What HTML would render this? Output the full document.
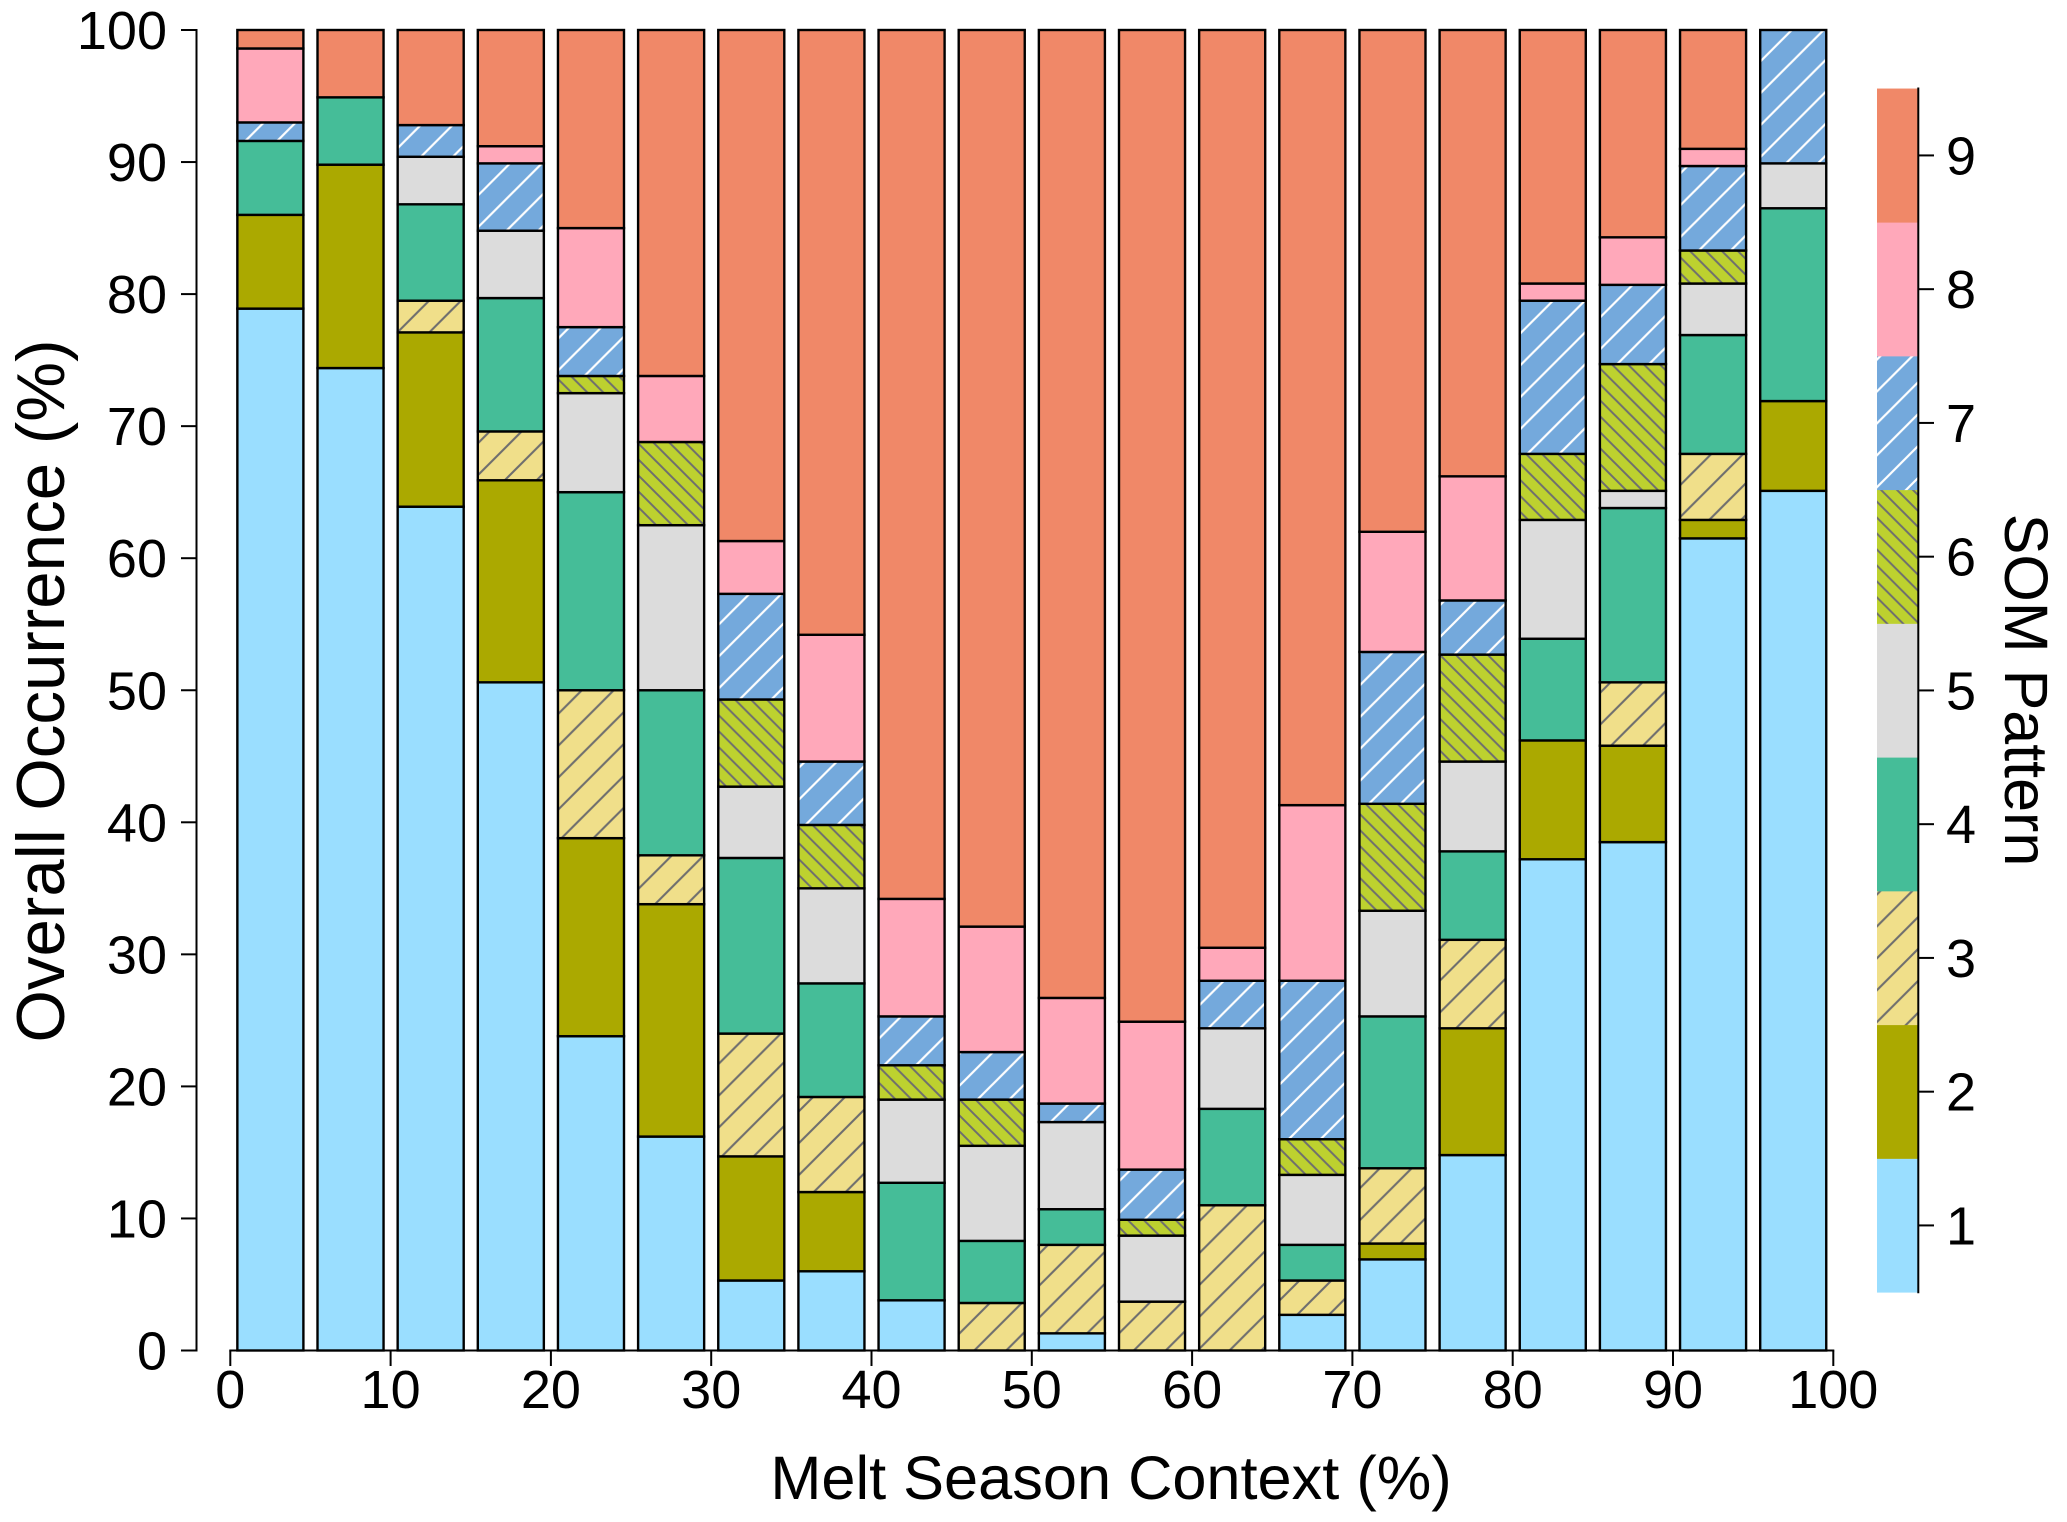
<!DOCTYPE html>
<html lang="en">
<head>
<meta charset="utf-8">
<title>Overall Occurrence by Melt Season Context</title>
<style>
  html, body { margin: 0; padding: 0; background: #fff; }
  svg { display: block; font-family: "Liberation Sans", Arial, sans-serif; fill: #000; }
</style>
</head>
<body>
<svg id="chart" xmlns="http://www.w3.org/2000/svg" width="2067" height="1522" viewBox="0 0 2067 1522">
  <defs>
    <pattern id="hatch-3" patternUnits="userSpaceOnUse" width="31.9" height="31.9" patternTransform="translate(28,0)">
      <rect width="31.9" height="31.9" fill="#F0DF8A"/>
      <path d="M-4,4 L4,-4 M0,31.9 L31.9,0 M27.9,35.9 L35.9,27.9" stroke="#6e6e6e" stroke-width="2.1" fill="none"/>
    </pattern>
    <pattern id="hatch-6" patternUnits="userSpaceOnUse" width="15.95" height="15.95" patternTransform="translate(3.5,0)">
      <rect width="15.95" height="15.95" fill="#BDD12F"/>
      <path d="M-4,11.95 L4,19.95 M0,0 L15.95,15.95 M11.95,-4 L19.95,4" stroke="#6e6e6e" stroke-width="2" fill="none"/>
    </pattern>
    <pattern id="hatch-7" patternUnits="userSpaceOnUse" width="31.9" height="31.9" patternTransform="translate(3.5,0)">
      <rect width="31.9" height="31.9" fill="#74A9DC"/>
      <path d="M-4,4 L4,-4 M0,31.9 L31.9,0 M27.9,35.9 L35.9,27.9" stroke="#ffffff" stroke-width="2.2" fill="none"/>
    </pattern>
  </defs>
  <g id="bars"></g>
  <g id="axes"></g>
  <g id="colorbar"></g>
  <text x="1111" y="1499" font-size="61.3" text-anchor="middle">Melt Season Context (%)</text>
  <text transform="translate(64,691) rotate(-90)" font-size="67.3" text-anchor="middle">Overall Occurrence (%)</text>
  <text transform="translate(2005,690) rotate(90)" font-size="61" text-anchor="middle">SOM Pattern</text>
</svg>
<script>
// Chart data: percent occurrence for each SOM pattern in each 5% melt season bin.
const binStarts = [0, 5, 10, 15, 20, 25, 30, 35, 40, 45, 50, 55, 60, 65, 70, 75, 80, 85, 90, 95];
const pattern1 = [78.9, 74.4, 63.9, 50.6, 23.8, 16.2, 5.3, 6, 3.8, 0, 1.3, 0, 0, 2.7, 6.9, 14.8, 37.2, 38.5, 61.5, 65.1];
const pattern2 = [7.1, 15.4, 13.2, 15.3, 15, 17.6, 9.4, 6, 0, 0, 0, 0, 0, 0, 1.2, 9.6, 9, 7.3, 1.4, 6.8];
const pattern3 = [0, 0, 2.4, 3.7, 11.2, 3.7, 9.3, 7.2, 0, 3.6, 6.7, 3.7, 11, 2.6, 5.7, 6.7, 0, 4.8, 5, 0];
const pattern4 = [5.6, 5.1, 7.3, 10.1, 15, 12.5, 13.3, 8.6, 8.9, 4.7, 2.7, 0, 7.3, 2.7, 11.5, 6.7, 7.7, 13.2, 9, 14.6];
const pattern5 = [0, 0, 3.6, 5.1, 7.5, 12.5, 5.4, 7.2, 6.3, 7.2, 6.6, 5, 6.1, 5.3, 8, 6.8, 9, 1.3, 3.9, 3.4];
const pattern6 = [0, 0, 0, 0, 1.3, 6.3, 6.6, 4.8, 2.6, 3.5, 0, 1.2, 0, 2.7, 8.1, 8.1, 5, 9.6, 2.5, 0];
const pattern7 = [1.4, 0, 2.4, 5.1, 3.7, 0, 8, 4.8, 3.7, 3.6, 1.4, 3.8, 3.6, 12, 11.5, 4.1, 11.6, 6, 6.4, 10.1];
const pattern8 = [5.6, 0, 0, 1.3, 7.5, 5, 4, 9.6, 8.9, 9.5, 8, 11.2, 2.5, 13.3, 9.1, 9.4, 1.3, 3.6, 1.3, 0];
const pattern9 = [1.4, 5.1, 7.2, 8.8, 15, 26.2, 38.7, 45.8, 65.8, 67.9, 73.3, 75.1, 69.5, 58.7, 38, 33.8, 19.2, 15.7, 9, 0];
const somPatterns = [1, 2, 3, 4, 5, 6, 7, 8, 9];
const binWidth = 5;
const barWidthUnits = 4.12;
const xTickLabels = [0, 10, 20, 30, 40, 50, 60, 70, 80, 90, 100];
const yTickLabels = [0, 10, 20, 30, 40, 50, 60, 70, 80, 90, 100];
const allSeries = [pattern1, pattern2, pattern3, pattern4, pattern5, pattern6, pattern7, pattern8, pattern9];
const patternFills = ['#9ADEFF', '#ABA900', 'url(#hatch-3)', '#45BD98', '#DCDCDC', 'url(#hatch-6)', 'url(#hatch-7)', '#FFA8BA', '#F08868'];

const SVG_NS = 'http://www.w3.org/2000/svg';
function xScale(v) { return 230.3 + v * 16.03; }
function yScale(v) { return 1350.5 - v * 13.205; }
function cbScale(v) { return 1292.3 - (v - 0.5) * 133.75; }

function make(tag, parent, attrs) {
  const el = document.createElementNS(SVG_NS, tag);
  for (const k in attrs) el.setAttribute(k, attrs[k]);
  parent.appendChild(el);
  return el;
}

const barsGroup = document.getElementById('bars');
const axesGroup = document.getElementById('axes');
const cbGroup = document.getElementById('colorbar');

// Stacked bars
binStarts.forEach(function (start, i) {
  const group = make('g', barsGroup, {});
  
  
  const center = start + binWidth / 2;
  const left = xScale(center - barWidthUnits / 2);
  const right = xScale(center + barWidthUnits / 2);
  let cum = 0;
  allSeries.forEach(function (series, s) {
    const v = series[i];
    if (v <= 0) return;
    const yTop = yScale(cum + v);
    const yBottom = yScale(cum);
    const seg = make('rect', group, {
      x: left, y: yTop, width: right - left, height: yBottom - yTop,
      fill: patternFills[s], stroke: '#000', 'stroke-width': 2.4
    });
    
    
    cum += v;
  });
});

// Y axis
const yAxisLine = make('line', axesGroup, { x1: 196.5, x2: 196.5, y1: yScale(100) - 1, y2: yScale(0) + 1, stroke: '#000', 'stroke-width': 2 });


yTickLabels.forEach(function (t) {
  const tick = make('line', axesGroup, { x1: 181, x2: 196.5, y1: yScale(t), y2: yScale(t), stroke: '#000', 'stroke-width': 2 });
  
  
  const label = make('text', axesGroup, { x: 167, y: yScale(t) + 19, 'font-size': 54, 'text-anchor': 'end' });
  label.textContent = t;
  
  
});

// X axis
const xAxisLine = make('line', axesGroup, { x1: xScale(0) - 1, x2: xScale(100) + 1, y1: 1350.5, y2: 1350.5, stroke: '#000', 'stroke-width': 2 });


xTickLabels.forEach(function (t) {
  const tick = make('line', axesGroup, { x1: xScale(t), x2: xScale(t), y1: 1350.5, y2: 1366, stroke: '#000', 'stroke-width': 2 });
  
  
  const label = make('text', axesGroup, { x: xScale(t), y: 1408, 'font-size': 54, 'text-anchor': 'middle' });
  label.textContent = t;
  
  
});

// Colorbar
somPatterns.forEach(function (p, s) {
  const cell = make('rect', cbGroup, {
    x: 1877, y: cbScale(p + 0.5), width: 41, height: cbScale(p - 0.5) - cbScale(p + 0.5) + 0.3,
    fill: patternFills[s]
  });
  
  
});
const cbLine = make('line', cbGroup, { x1: 1918.3, x2: 1918.3, y1: cbScale(9.5) - 1, y2: cbScale(0.5) + 1, stroke: '#000', 'stroke-width': 2 });


somPatterns.forEach(function (p) {
  const tick = make('line', cbGroup, { x1: 1918.3, x2: 1934, y1: cbScale(p), y2: cbScale(p), stroke: '#000', 'stroke-width': 2 });
  
  
  const label = make('text', cbGroup, { x: 1946, y: cbScale(p) + 19, 'font-size': 54 });
  label.textContent = p;
  
  
});
</script>
</body>
</html>
